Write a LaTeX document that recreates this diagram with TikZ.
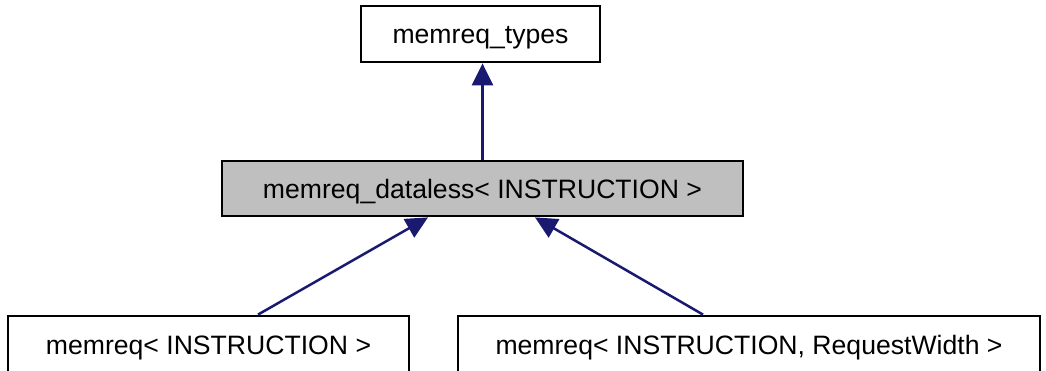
\documentclass[tikz,border=0pt]{standalone}
\usepackage{fontspec}
\setmainfont{Liberation Sans}
\usetikzlibrary{arrows.meta}
\definecolor{edgeblue}{RGB}{25,25,112}
\definecolor{focusgray}{RGB}{191,191,191}
\begin{document}
\begin{tikzpicture}[x=1pt,y=-1pt,
  classbox/.style={draw=black, line width=2.8pt, fill=white, inner sep=0pt,
    minimum height=56pt, text height=25pt, text depth=5pt,
    font=\fontsize{26.6}{32}\selectfont},
  inherit/.style={draw=edgeblue, line width=2.5pt,
    -{Triangle[length=22pt,width=21pt]}}]
  \useasboundingbox (0,0) rectangle (1046,371);
  \clip (0,0) rectangle (1046,371);

  % class nodes
  \node[classbox, minimum width=239pt] (mt) at (480.5,34) {memreq\_types};
  \node[classbox, fill=focusgray, minimum width=521pt, minimum height=55pt] (dl) at (482.5,188.5) {memreq\_dataless< INSTRUCTION >};
  \node[classbox, minimum width=401pt] (ml) at (208.5,344) {memreq< INSTRUCTION >};
  \node[classbox, minimum width=582pt] (mr) at (749,344) {memreq< INSTRUCTION, RequestWidth >};

  % inheritance edges
  \draw[inherit] (dl.north) -- (dl.north |- mt.south);
  \draw[inherit] ([xshift=49.5pt]ml.north) -- ([xshift=-54.5pt]dl.south);
  \draw[inherit] ([xshift=-46pt]mr.north) -- ([xshift=52.5pt]dl.south);
\end{tikzpicture}
\end{document}
